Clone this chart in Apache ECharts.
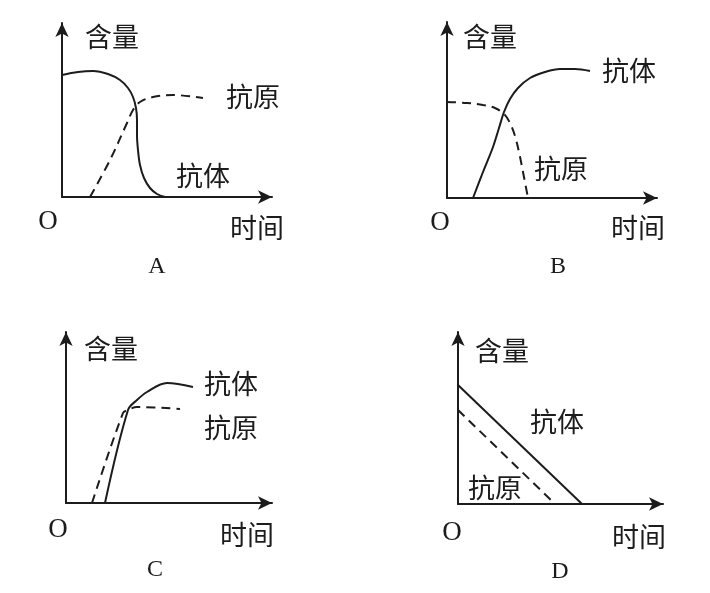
<!DOCTYPE html>
<html><head><meta charset="utf-8">
<script src="https://cdn.jsdelivr.net/npm/echarts@6/dist/echarts.min.js"></script>
<style>html,body{margin:0;padding:0;background:#fff}#c{width:710px;height:593px}</style>
</head><body><div id="c"></div>
<script>
// Panel ranges (arbitrary units of time / content)
var panels = ['A','B','C','D'];
// Panel A
var A_antibody = [[0,122],[16,125],[31,126],[46,123],[58,117],[66,109],[71,100],[74,89],[75,77],[75,62],[76,47],[78,32],[82,19],[88,9],[95,3],[103,0]];
var A_antigen  = [[28,0],[48,37],[65,74],[71,87],[78,95],[91,100],[111,102],[141,99]];
// Panel B
var B_antibody = [[26,0],[36,26],[46,51],[52,70],[57,86],[63,99],[71,110],[83,120],[98,126],[113,129],[128,129],[143,127]];
var B_antigen  = [[0,96],[20,95],[36,93],[48,90],[57,84],[63,75],[68,62],[72,46],[76,26],[81,0]];
// Panel C
var C_antibody = [[39,0],[62,93],[71,103],[81,111],[101,120],[127,116]];
var C_antigen  = [[26,0],[57,90],[62,93],[71,96],[114,94]];
// Panel D
var D_antibody = [[0,119],[124,0]];
var D_antigen  = [[0,94],[97,0]];

var xName = '时间', yName = '含量', originLabel = 'O';
var antibodyName = '抗体', antigenName = '抗原';

var ink = '#1c1c1c';
var layout = [
  {left:62, top:23, width:210, height:174},
  {left:447, top:22, width:210, height:176},
  {left:66, top:332, width:206, height:171},
  {left:458, top:332, width:205, height:172}
];
var seriesData = [
  [A_antibody, A_antigen],[B_antibody, B_antigen],[C_antibody, C_antigen],[D_antibody, D_antigen]
];
var grids=[], xAxes=[], yAxes=[], series=[];
layout.forEach(function(g,i){
  grids.push({left:g.left, top:g.top, width:g.width, height:g.height});
  var axisCommon = {
    min:0, axisTick:{show:false}, axisLabel:{show:false}, splitLine:{show:false},
    axisLine:{show:true, symbol:['none','arrow'], symbolSize:[10,14], lineStyle:{color:ink, width:2}}
  };
  xAxes.push(Object.assign({type:'value', gridIndex:i, max:g.width}, axisCommon));
  yAxes.push(Object.assign({type:'value', gridIndex:i, max:g.height}, axisCommon));
  var sm = i===3 ? false : 0.35;
  series.push({type:'line', xAxisIndex:i, yAxisIndex:i, data:seriesData[i][0], smooth:sm,
    showSymbol:false, lineStyle:{color:ink, width:2}, silent:true});
  series.push({type:'line', xAxisIndex:i, yAxisIndex:i, data:seriesData[i][1], smooth:sm,
    showSymbol:false, lineStyle:{color:ink, width:2, type:[9,6]}, silent:true});
});

var cjk = '"Noto Sans CJK SC", sans-serif';
var serif = '"Liberation Serif", "DejaVu Serif", serif';
// texts: [x, y] centers
var texts = [
  // A
  [112,37,yName,cjk,27],[48,222,originLabel,serif,27],[257,228,xName,cjk,27],[157,267,panels[0],serif,24],
  [253,97,antigenName,cjk,27],[203,176,antibodyName,cjk,27],
  // B
  [490,37,yName,cjk,27],[440,223,originLabel,serif,27],[638,228,xName,cjk,27],[558,267,panels[1],serif,24],
  [629,71,antibodyName,cjk,27],[561,169,antigenName,cjk,27],
  // C
  [111,349,yName,cjk,27],[58,530,originLabel,serif,27],[247,535,xName,cjk,27],[155,570,panels[2],serif,24],
  [231,384,antibodyName,cjk,27],[231,428,antigenName,cjk,27],
  // D
  [502,351,yName,cjk,27],[452,533,originLabel,serif,27],[639,537,xName,cjk,27],[560,572,panels[3],serif,24],
  [557,422,antibodyName,cjk,27],[495,488,antigenName,cjk,27]
];
var graphic = texts.map(function(a){
  return {type:'text', x:a[0], y:a[1], style:{text:a[2], font:'normal '+a[4]+'px '+a[3], fill:ink, align:'center', verticalAlign:'middle'}};
});

var chart = echarts.init(document.getElementById('c'), null, {renderer:'canvas'});
chart.setOption({
  backgroundColor:'#fff', animation:false,
  grid:grids, xAxis:xAxes, yAxis:yAxes, series:series, graphic:graphic
});
</script></body></html>
